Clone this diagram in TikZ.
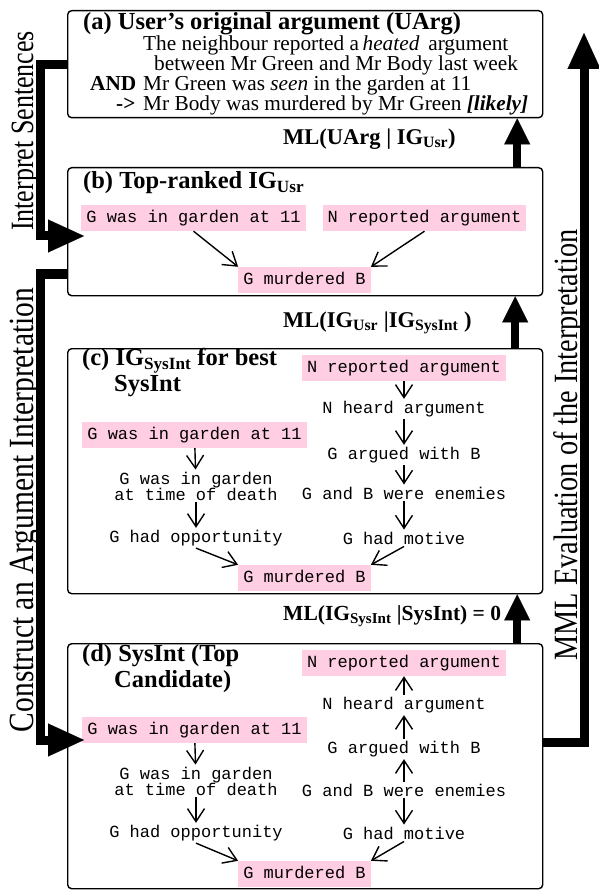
\documentclass[tikz,border=0pt]{standalone}
\usepackage{fontspec}
\usepackage{graphicx}
\setmainfont{Liberation Serif}
\setmonofont{Liberation Mono}
\usetikzlibrary{arrows.meta}
\definecolor{argpink}{RGB}{255,206,226}

\tikzset{
  panel/.style={draw, line width=1.4pt, rounded corners=4pt, anchor=north west, inner sep=0pt},
  boxhead/.style={anchor=west, inner sep=0pt, font=\bfseries\fontsize{24.5}{27}\selectfont},
  bodytext/.style={anchor=west, inner sep=0pt, text height=14.5pt, text depth=4.5pt, font=\fontsize{21.3}{22}\selectfont},
  boldtext/.style={bodytext, font=\bfseries\fontsize{21.3}{22}\selectfont},
  mllabel/.style={anchor=west, inner sep=0pt, font=\bfseries\fontsize{22.5}{24}\selectfont},
  sidelabel/.style={rotate=90, anchor=base, inner sep=0pt},
  stmt/.style={inner xsep=5pt, inner ysep=2pt, font=\ttfamily\fontsize{17}{16}\selectfont, align=center},
  given/.style={stmt, fill=argpink, text height=12pt, text depth=3.5pt, inner ysep=5.25pt},
  infer/.style={line width=1.4pt, -{Straight Barb[length=13pt, width=17pt]}},
  flow/.style={line width=9pt, -{Triangle[length=36pt, width=33pt, line width=0.1pt]}},
  lift/.style={line width=8pt, -{Triangle[length=26pt, width=26pt, line width=0.1pt]}}
}

\begin{document}
\begin{tikzpicture}[x=1pt,y=1pt,yscale=-1,xscale=1]
	\useasboundingbox (0,0) rectangle (598,890);
	
	%Shape: Rectangle (a) 
	\node[panel, minimum width=475pt, minimum height=107pt] (boxA) at (67,10) {};
	%Shape: Rectangle (b) 
	\node[panel, minimum width=475pt, minimum height=128pt] (boxB) at (67,167) {};
	%Shape: Rectangle (c) 
	\node[panel, minimum width=475pt, minimum height=245pt] (boxC) at (67,348) {};
	%Shape: Rectangle (d) 
	\node[panel, minimum width=475pt, minimum height=245pt] (boxD) at (67,643) {};
	
	% Text Node
	\node[boxhead] (headA) at (83,23.5) {(a) User's original argument (UArg)};
	\node[bodytext] (lineA1) at (143,45.5) {The neighbour reported a\,\textit{heated}\, argument};
	\node[bodytext] (lineA2) at (154,65.5) {between Mr Green and Mr Body last week};
	\node[boldtext] (andA) at (90,85.5) {AND};
	\node[bodytext] (lineA3) at (143,85.5) {Mr Green was \textit{seen} in the garden at 11};
	\node[boldtext] (impA) at (116,105.5) {->};
	\node[bodytext] (lineA4) at (143,105.5) {Mr Body was murdered by Mr Green \textbf{\textit{[likely]}}};
	
	% Text Node
	\node[boxhead] (headB) at (83,183) {(b) Top-ranked IG\textsubscript{Usr}};
	\node[given] (gardenB) at (193.5,218) {G was in garden at 11};
	\node[given] (reportB) at (424.5,218) {N reported argument};
	\node[given] (murderB) at (304.5,280) {G murdered B};
	\draw[infer] (gardenB.south) -- (murderB.north west);
	\draw[infer] (reportB.south) -- (murderB.north east);
	
	% Text Node
	\node[boxhead] (headC) at (82,360.5) {(c) IG\textsubscript{SysInt} for best};
	\node[boxhead] (headC2) at (114,386.5) {SysInt};
	\node[given] (reportC) at (404,368) {N reported argument};
	\node[stmt] (heardC) at (404,409) {N heard argument};
	\node[stmt] (argueC) at (404,455) {G argued with B};
	\node[stmt] (enemyC) at (404,493) {G and B were enemies};
	\node[stmt] (motiveC) at (404,538) {G had motive};
	\node[given] (gardenC) at (194.5,435) {G was in garden at 11};
	\node[stmt] (deathC) at (196,486) {G was in garden\\at time of death};
	\node[stmt] (opportC) at (196,538) {G had opportunity};
	\node[given] (murderC) at (304.5,578) {G murdered B};
	\draw[infer] (reportC) -- (heardC);
	\draw[infer] (heardC) -- (argueC);
	\draw[infer] (argueC) -- (enemyC);
	\draw[infer] (enemyC) -- (motiveC);
	\draw[infer] (gardenC) -- (deathC);
	\draw[infer] (deathC) -- (opportC);
	\draw[infer] (opportC.south) -- (murderC.north west);
	\draw[infer] (motiveC.south) -- (murderC.north east);
	
	% Text Node
	\node[boxhead] (headD) at (82,656) {(d) SysInt (Top};
	\node[boxhead] (headD2) at (114,682) {Candidate)};
	\node[given] (reportD) at (404,663) {N reported argument};
	\node[stmt] (heardD) at (404,705) {N heard argument};
	\node[stmt] (argueD) at (404,749) {G argued with B};
	\node[stmt] (enemyD) at (404,790) {G and B were enemies};
	\node[stmt] (motiveD) at (404,833) {G had motive};
	\node[given] (gardenD) at (194.5,730) {G was in garden at 11};
	\node[stmt] (deathD) at (196,781) {G was in garden\\at time of death};
	\node[stmt] (opportD) at (196,833) {G had opportunity};
	\node[given] (murderD) at (304.5,874) {G murdered B};
	\draw[infer] (heardD) -- (reportD);
	\draw[infer] (argueD) -- (heardD);
	\draw[infer] (enemyD) -- (argueD);
	\draw[infer] (enemyD) -- (motiveD);
	\draw[infer] (gardenD) -- (deathD);
	\draw[infer] (deathD) -- (opportD);
	\draw[infer] (opportD.south) -- (murderD.north west);
	\draw[infer] (motiveD.south) -- (murderD.north east);
	
	% ML labels and arrows between boxes
	\node[mllabel] (mlA) at (283,139) {ML(UArg | IG\textsubscript{Usr})};
	\node[mllabel] (mlB) at (283,323) {ML(IG\textsubscript{Usr} |IG\textsubscript{SysInt} )};
	\node[mllabel, font=\bfseries\fontsize{21.5}{24}\selectfont] (mlC) at (283,616) {ML(IG\textsubscript{SysInt} |SysInt) = 0};
	\draw[lift] ([xshift=212pt]boxB.north) -- ([xshift=212pt]boxA.south);
	\draw[lift] ([xshift=210pt]boxC.north) -- ([xshift=210pt]boxB.south);
	\draw[lift] ([xshift=212pt]boxD.north) -- ([xshift=212pt]boxC.south);
	
	% side flows
	\coordinate (leftrail) at (40,0);
	\coordinate (tipB) at (84,236);
	\coordinate (caStart) at (67,274);
	\coordinate (tipD) at (84,740);
	\coordinate (mmlStart) at (542,742);
	\coordinate (mmlTip) at (584,33);
	\draw[flow] (boxA.west) -- (boxA.west -| leftrail) |- (tipB);
	\draw[flow] (caStart) -- (caStart -| leftrail) |- (tipD);
	\draw[flow] (mmlStart) -| (mmlTip);
	
	% Text Node
	\node[sidelabel] (isLabel) at (33,131) {\scalebox{1}[1.25]{\fontsize{26}{28}\selectfont Interpret Sentences}};
	\node[sidelabel] (caLabel) at (33,510) {\scalebox{1}[1.2]{\fontsize{29.5}{31}\selectfont Construct an Argument Interpretation}};
	\node[sidelabel] (mmlLabel) at (577,445) {\scalebox{1}[1.2]{\fontsize{28.3}{30}\selectfont MML Evaluation of the Interpretation}};
	
\end{tikzpicture}
\end{document}
